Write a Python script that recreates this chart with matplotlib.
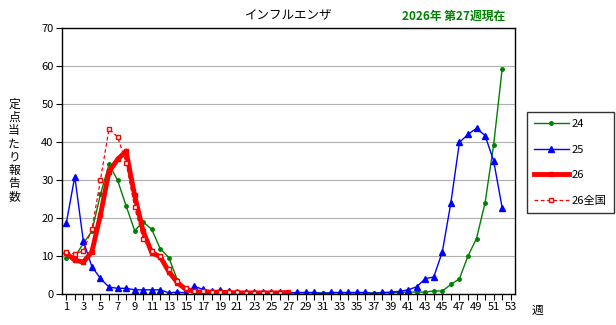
import numpy as np
import matplotlib
matplotlib.use("Agg")
import matplotlib.pyplot as plt

plt.rcParams['font.family'] = ['Noto Sans CJK JP', 'DejaVu Sans']

# weekly values (per sentinel)
weeks = np.arange(1, 53)
y24 = [9.6, 9.8, 13.3, 16.5, 26.2, 34.1, 30.0, 23.2, 16.7, 19.0,
       17.0, 11.9, 9.6, 3.7, 1.2, 0.6, 0.5, 0.4, 0.3, 0.3,
       0.3, 0.3, 0.3, 0.3, 0.3, 0.3, 0.3, 0.3, 0.3, 0.3,
       0.3, 0.3, 0.3, 0.3, 0.3, 0.3, 0.3, 0.3, 0.3, 0.4,
       0.5, 0.5, 0.5, 0.8, 0.8, 2.5, 4.0, 10.0, 14.6, 24.0,
       39.2, 59.2]
y25 = [18.6, 30.9, 13.9, 7.2, 4.1, 1.8, 1.5, 1.5, 1.1, 1.1,
       1.1, 1.1, 0.3, 0.5, 0.3, 2.0, 1.2, 0.8, 1.0, 0.7,
       0.5, 0.4, 0.4, 0.4, 0.5, 0.4, 0.3, 0.4, 0.4, 0.4,
       0.1, 0.4, 0.4, 0.4, 0.4, 0.4, 0.1, 0.4, 0.5, 0.7,
       1.1, 1.9, 4.0, 4.5, 11.1, 24.0, 39.9, 42.0, 43.6, 41.7,
       35.1, 22.7]
y26 = [10.7, 8.9, 8.4, 11.1, 20.8, 32.2, 35.4, 37.6, 26.0, 16.5,
       10.9, 9.8, 5.9, 3.0, 1.2, 0.6, 0.5, 0.5, 0.4, 0.4,
       0.3, 0.3, 0.3, 0.3, 0.3, 0.3, 0.4]
y26_nat = [11.1, 10.5, 11.4, 17.0, 30.0, 43.4, 41.4, 34.6, 22.8, 14.5,
           11.4, 10.1, 6.6, 3.5, 1.6, 0.9, 0.7, 0.6, 0.5, 0.4,
           0.4, 0.3, 0.3, 0.3, 0.3, 0.3]
ylabel_chars = list('定点当たり報告数')

fig = plt.figure(figsize=(6.16, 3.25), dpi=100)
ax = fig.add_axes([0.1006, 0.0954, 0.7354, 0.8184])

ax.plot(weeks, y24, color='#008000', lw=1, marker='o', ms=2.5, label='24')
ax.plot(weeks, y25, color='#0000FF', lw=1, marker='^', ms=4.5, label='25')
ax.plot(weeks[:len(y26)], y26, color='#FF0000', lw=3.5, marker='s', ms=3.5, label='26')
ax.plot(weeks[:len(y26_nat)], y26_nat, color='#FF0000', lw=0.9, ls=(0, (3, 2)),
        marker='s', ms=3.5, mfc='white', mec='#FF0000', mew=1, label='26全国')

ax.set_xlim(0.5, 53.5)
ax.set_ylim(0, 70)
ax.set_yticks(np.arange(0, 71, 10))
ax.set_xticks(np.arange(1, 54, 2))
ax.set_xticks(np.arange(1, 54, 1), minor=True)
ax.yaxis.grid(True, color='#b0b0b0', lw=0.8)
ax.set_axisbelow(True)
ax.tick_params(axis='both', labelsize=8, length=4, width=0.8, direction='out', pad=2)
ax.tick_params(axis='x', which='minor', length=4, width=0.8)
for s in ax.spines.values():
    s.set_linewidth(1)

# vertical y label, one character per line
for i, ch in enumerate(ylabel_chars):
    fig.text(14 / 616, 1 - (104 + i * 13.3) / 325, ch, fontsize=8.5, ha='center', va='center')
fig.text(0.872, 0.045, '週', fontsize=8.5, ha='center', va='center')
fig.text(0.468, 0.95, 'インフルエンザ', fontsize=9, ha='center', va='center')
fig.text(0.737, 0.95, '2026年 第27週現在', fontsize=8.5, ha='center', va='center',
         color='#008000', fontweight='bold')

leg = ax.legend(loc='upper left', bbox_to_anchor=(527 / 616, 1 - 112 / 325),
                bbox_transform=fig.transFigure, frameon=True, fancybox=False,
                edgecolor='black', fontsize=8, handlelength=3.1, labelspacing=1.4,
                borderpad=0.65, handletextpad=0.3, borderaxespad=0)
leg.get_frame().set_linewidth(1)

fig.savefig('out.png', dpi=100)
